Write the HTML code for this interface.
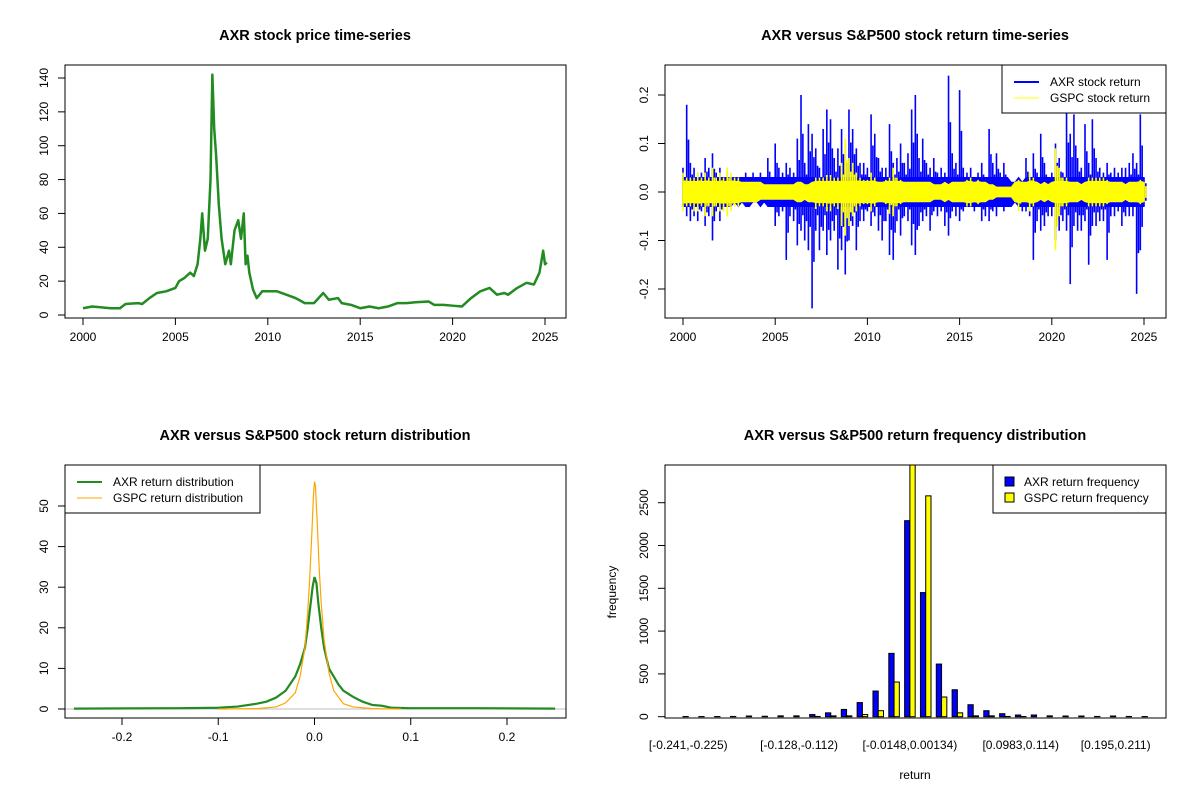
<!DOCTYPE html>
<html><head><meta charset="utf-8"><style>
body{margin:0;background:#fff}
svg text{font-family:"Liberation Sans",Arial,sans-serif;fill:#000}
</style></head><body>
<svg id="s" width="1200" height="800" xmlns="http://www.w3.org/2000/svg">
<defs>
<clipPath id="c1"><rect x="65" y="65" width="501" height="253"/></clipPath>
<clipPath id="c2"><rect x="665" y="65" width="501" height="253"/></clipPath>
<clipPath id="c3"><rect x="65" y="465" width="501" height="253"/></clipPath>
<clipPath id="c4"><rect x="665" y="465" width="501" height="253"/></clipPath>
</defs>
</svg>
<script>
// ---------- data ----------
const priceYears=[2000,2000.5,2001,2001.5,2002,2002.3,2003,2003.2,2003.6,2004,2004.5,2005,2005.2,2005.5,2005.8,2006,2006.2,2006.35,2006.45,2006.6,2006.75,2006.9,2007.0,2007.1,2007.2,2007.35,2007.5,2007.7,2007.9,2008.0,2008.2,2008.4,2008.55,2008.7,2008.8,2008.9,2009.0,2009.2,2009.4,2009.7,2010,2010.5,2011,2011.5,2012,2012.5,2013,2013.3,2013.8,2014,2014.5,2015,2015.5,2016,2016.5,2017,2017.5,2018,2018.7,2019,2019.5,2020,2020.5,2021,2021.5,2022,2022.4,2022.8,2023,2023.5,2024,2024.4,2024.7,2024.9,2025.0,2025.1];
const priceValues=[4,5,4.5,4,4,6.5,7,6.5,10,13,14,16,20,22,25,23,30,45,60,38,45,80,142,110,95,65,45,30,38,30,50,56,45,60,30,35,25,15,10,14,14,14,12,10,7,7,13,9,10,7,6,4,5,4,5,7,7,7.5,8,6,6,5.5,5,10,14,16,12,13,12,16,19,18,25,38,30,31];
const retStart=2000, retStep=0.2;
const axrUp=[0.05,0.18,0.06,0.05,0.04, 0.04,0.07,0.05,0.08,0.04, 0.05,0.03,0.04,0.03,0.03, 0.03,0.03,0.04,0.03,0.04, 0.03,0.04,0.03,0.07,0.03, 0.10,0.05,0.04,0.06,0.05, 0.04,0.11,0.20,0.06,0.14, 0.12,0.09,0.05,0.13,0.17, 0.15,0.07,0.09,0.13,0.10, 0.17,0.13,0.09,0.06,0.06, 0.05,0.16,0.12,0.07,0.05, 0.05,0.14,0.06,0.07,0.10, 0.06,0.08,0.17,0.20,0.07, 0.11,0.06,0.05,0.07,0.04, 0.05,0.04,0.24,0.08,0.06, 0.21,0.05,0.04,0.05,0.03, 0.04,0.06,0.03,0.13,0.06, 0.08,0.04,0.06,0.03,0.02, 0.02,0.03,0.02,0.07,0.03, 0.08,0.04,0.12,0.06,0.03, 0.04,0.10,0.07,0.04,0.17, 0.12,0.16,0.07,0.05,0.14, 0.06,0.15,0.07,0.05,0.04, 0.06,0.04,0.05,0.04,0.05, 0.05,0.06,0.08,0.06,0.16, 0.03];
const axrDown=[-0.03,-0.05,-0.06,-0.05,-0.06, -0.04,-0.07,-0.05,-0.10,-0.04, -0.06,-0.03,-0.03,-0.03,-0.02, -0.03,-0.02,-0.03,-0.03,-0.02, -0.02,-0.03,-0.02,-0.03,-0.03, -0.07,-0.05,-0.04,-0.14,-0.05, -0.06,-0.11,-0.08,-0.10,-0.12, -0.24,-0.08,-0.12,-0.08,-0.13, -0.10,-0.08,-0.16,-0.12,-0.17, -0.10,-0.07,-0.12,-0.06,-0.06, -0.04,-0.07,-0.05,-0.08,-0.10, -0.06,-0.13,-0.14,-0.06,-0.09, -0.05,-0.06,-0.11,-0.13,-0.07, -0.06,-0.05,-0.08,-0.04,-0.05, -0.04,-0.07,-0.09,-0.04,-0.05, -0.06,-0.04,-0.03,-0.03,-0.04, -0.03,-0.06,-0.05,-0.06,-0.04, -0.05,-0.03,-0.04,-0.03,-0.03, -0.02,-0.03,-0.04,-0.04,-0.05, -0.14,-0.06,-0.08,-0.07,-0.05, -0.05,-0.10,-0.08,-0.06,-0.08, -0.19,-0.07,-0.08,-0.08,-0.06, -0.15,-0.07,-0.07,-0.06,-0.06, -0.14,-0.05,-0.05,-0.04,-0.07, -0.05,-0.05,-0.05,-0.21,-0.12, -0.03];
const gspcUp=[0.04,0.03,0.03,0.03,0.04, 0.03,0.04,0.03,0.05,0.03, 0.04,0.03,0.05,0.04,0.03, 0.03,0.02,0.02,0.02,0.02, 0.02,0.02,0.015,0.015,0.015, 0.015,0.015,0.015,0.015,0.015, 0.015,0.02,0.02,0.015,0.015, 0.02,0.03,0.03,0.03,0.035, 0.035,0.03,0.03,0.06,0.11, 0.07,0.06,0.04,0.03,0.025, 0.025,0.04,0.03,0.02,0.02, 0.025,0.03,0.05,0.03,0.025, 0.02,0.02,0.02,0.02,0.02, 0.02,0.02,0.02,0.015,0.015, 0.015,0.02,0.015,0.02,0.02, 0.02,0.02,0.025,0.03,0.02, 0.025,0.02,0.02,0.015,0.015, 0.01,0.01,0.01,0.01,0.01, 0.02,0.025,0.02,0.02,0.04, 0.03,0.02,0.015,0.02,0.015, 0.02,0.09,0.05,0.03,0.03, 0.02,0.02,0.02,0.015,0.02, 0.03,0.03,0.03,0.03,0.03, 0.025,0.02,0.02,0.02,0.02, 0.015,0.02,0.02,0.02,0.025, 0.02];
const gspcDown=[-0.04,-0.03,-0.03,-0.04,-0.04, -0.03,-0.05,-0.03,-0.05,-0.03, -0.04,-0.04,-0.05,-0.04,-0.03, -0.03,-0.02,-0.02,-0.02,-0.02, -0.02,-0.015,-0.015,-0.015,-0.015, -0.015,-0.015,-0.015,-0.015,-0.015, -0.015,-0.02,-0.02,-0.015,-0.02, -0.02,-0.035,-0.03,-0.03,-0.04, -0.04,-0.03,-0.035,-0.07,-0.09, -0.07,-0.05,-0.04,-0.03,-0.025, -0.025,-0.04,-0.03,-0.02,-0.02, -0.025,-0.045,-0.05,-0.03,-0.025, -0.02,-0.02,-0.02,-0.02,-0.02, -0.02,-0.02,-0.02,-0.015,-0.015, -0.015,-0.02,-0.015,-0.02,-0.02, -0.02,-0.02,-0.03,-0.03,-0.02, -0.025,-0.02,-0.02,-0.015,-0.015, -0.01,-0.01,-0.01,-0.01,-0.01, -0.02,-0.04,-0.02,-0.02,-0.04, -0.03,-0.02,-0.015,-0.02,-0.015, -0.02,-0.12,-0.05,-0.03,-0.03, -0.02,-0.02,-0.02,-0.015,-0.02, -0.03,-0.03,-0.03,-0.03,-0.03, -0.025,-0.02,-0.02,-0.02,-0.02, -0.015,-0.02,-0.02,-0.02,-0.025, -0.02];
const axrDensX=[-0.25,-0.14,-0.1,-0.08,-0.06,-0.05,-0.04,-0.03,-0.02,-0.015,-0.01,-0.007,-0.004,-0.002,0,0.002,0.004,0.007,0.01,0.015,0.02,0.025,0.03,0.04,0.05,0.06,0.07,0.08,0.1,0.15,0.17,0.25];
const axrDensY=[0.1,0.2,0.3,0.6,1.3,1.8,2.8,4.5,8,11,15,20,26,30,32.5,31,26,20,15,10,8,6,4.5,3,1.8,1,0.8,0.3,0.2,0.2,0.2,0.1];
const gspcDensX=[-0.1,-0.06,-0.04,-0.03,-0.02,-0.015,-0.01,-0.007,-0.005,-0.003,-0.001,0,0.001,0.003,0.005,0.007,0.01,0.015,0.02,0.03,0.04,0.06,0.09];
const gspcDensY=[0,0.1,0.5,1.5,4,8,15,24,32,42,53,56,55,45,34,26,17,9,4.5,1.3,0.5,0.1,0];
const axrFreq=[2,2,2,3,8,5,10,10,25,45,85,165,300,740,2290,1450,615,315,140,70,35,20,20,10,8,8,3,8,3,2];
const gspcFreq=[0,0,0,0,0,0,0,0,3,10,10,25,70,405,3300,2580,230,45,10,10,3,2,0,0,0,0,0,0,0,0];
const binLabels=["[-0.241,-0.225)","[-0.128,-0.112)","[-0.0148,0.00134)","[0.0983,0.114)","[0.195,0.211)"];
const binLabelIdx=[0,7,14,21,27];
const yearTicks=[2000,2005,2010,2015,2020,2025];
const priceTicks=[0,20,40,60,80,100,120,140];
const retTicks=[-0.2,-0.1,0.0,0.1,0.2];
const densXTicks=[-0.2,-0.1,0.0,0.1,0.2];
const densYTicks=[0,10,20,30,40,50];
const freqTicks=[0,500,1000,1500,2000,2500];

// ---------- helpers ----------
const S=document.getElementById('s');const NS='http://www.w3.org/2000/svg';
function mk(tag,attrs,parent){const e=document.createElementNS(NS,tag);for(const k in attrs)e.setAttribute(k,attrs[k]);(parent||S).appendChild(e);return e;}
function txt(x,y,s,opts,parent){const e=mk('text',Object.assign({x:x,y:y,'text-anchor':'middle','font-size':12},opts||{}),parent);e.textContent=s;return e;}
function box(x,y,w,h,name){const r=mk('rect',{x:x,y:y,width:w,height:h,fill:'none',stroke:'#000','stroke-width':1});}
function xTick(x,y0,label){mk('line',{x1:x,y1:y0,x2:x,y2:y0+7,stroke:'#000'});txt(x,y0+23,label);}
function yTick(x0,y,label){mk('line',{x1:x0,y1:y,x2:x0-7,y2:y,stroke:'#000'});txt(x0-17,y,label,{transform:`rotate(-90 ${x0-17} ${y})`});}
function fmt1(v){return v.toFixed(1);}

// ---------- panel 1: price ----------
const px1=y=>83+(y-2000)*(545-83)/25, py1=v=>315-v*(315-78)/140;
txt(315,40,'AXR stock price time-series',{'font-weight':'bold','font-size':14.5});
let g=mk('g',{'clip-path':'url(#c1)'});
mk('polyline',{points:priceYears.map((y,i)=>px1(y)+','+py1(priceValues[i])).join(' '),fill:'none',stroke:'#228b22','stroke-width':2.5,'stroke-linejoin':'round'},g);
box(65,65,501,253,'price-plot-frame');
yearTicks.forEach(t=>xTick(px1(t),318,String(t)));
mk('line',{x1:83,y1:318,x2:545,y2:318,stroke:'#000'});
priceTicks.forEach(t=>yTick(65,py1(t),String(t)));

// ---------- panel 2: returns ----------
const px2=y=>683+(y-2000)*(1144-683)/25, py2=v=>192-v*(192-95)/0.2;
txt(915,40,'AXR versus S&P500 stock return time-series',{'font-weight':'bold','font-size':14.5});
function spikes(up,dn,color,core,name){
 const gg=mk('g',{'clip-path':'url(#c2)'});
 let top=[],bot=[];
 up.forEach((u,i)=>{const t=retStart+i*retStep;top.push(px2(t)+','+py2(Math.min(u,core)));bot.unshift(px2(t)+','+py2(Math.max(dn[i],-core)));});
 mk('polygon',{points:top.concat(bot).join(' '),fill:color,stroke:color,'stroke-width':1},gg);
 let d='';
 up.forEach((u,i)=>{const t=retStart+i*retStep;const x=px2(t);const x2=px2(t+retStep/2);
   d+=`M${x},${py2(dn[i])}V${py2(u)}M${x2},${py2(dn[i]*0.6)}V${py2(u*0.6)}`;});
 mk('path',{d:d,stroke:color,'stroke-width':1.6,fill:'none'},gg);
}
spikes(axrUp,axrDown,'#0000ff',0.03,'axr-return-series');
spikes(gspcUp,gspcDown,'#ffff00',0.022,'gspc-return-series');
box(665,65,501,253,'return-plot-frame');
yearTicks.forEach(t=>xTick(px2(t),318,String(t)));
mk('line',{x1:683,y1:318,x2:1144,y2:318,stroke:'#000'});
retTicks.forEach(t=>yTick(665,py2(t),fmt1(t)));
let lg=mk('g',{});
mk('rect',{x:1002,y:65,width:164,height:48,fill:'#fff',stroke:'#000'},lg);
mk('line',{x1:1014,y1:82,x2:1039,y2:82,stroke:'#0000ff','stroke-width':2},lg);
mk('line',{x1:1014,y1:98,x2:1039,y2:98,stroke:'#ffff00','stroke-width':1},lg);
txt(1050,86,'AXR stock return',{'text-anchor':'start'},lg);
txt(1050,102,'GSPC stock return',{'text-anchor':'start'},lg);

// ---------- panel 3: density ----------
const px3=x=>314.5+x*962.5, py3=v=>709-v*(709-506)/50;
txt(315,440,'AXR versus S&P500 stock return distribution',{'font-weight':'bold','font-size':14.5});
g=mk('g',{'clip-path':'url(#c3)'});
mk('line',{x1:65,y1:py3(0),x2:566,y2:py3(0),stroke:'#bebebe'},g);
let d1=mk('polyline',{points:axrDensX.map((x,i)=>px3(x)+','+py3(axrDensY[i])).join(' '),fill:'none',stroke:'#228b22','stroke-width':2.2},g);

let d2=mk('polyline',{points:gspcDensX.map((x,i)=>px3(x)+','+py3(gspcDensY[i])).join(' '),fill:'none',stroke:'#ffa500','stroke-width':1.2},g);

box(65,465,501,253,'density-plot-frame');
densXTicks.forEach(t=>xTick(px3(t),718,fmt1(t)));
mk('line',{x1:px3(-0.2),y1:718,x2:px3(0.2),y2:718,stroke:'#000'});
densYTicks.forEach(t=>yTick(65,py3(t),String(t)));
lg=mk('g',{});
mk('rect',{x:65,y:465,width:195,height:48,fill:'#fff',stroke:'#000'},lg);
mk('line',{x1:77,y1:482,x2:102,y2:482,stroke:'#228b22','stroke-width':2},lg);
mk('line',{x1:77,y1:498,x2:102,y2:498,stroke:'#ffa500','stroke-width':1},lg);
txt(113,486,'AXR return distribution',{'text-anchor':'start'},lg);
txt(113,502,'GSPC return distribution',{'text-anchor':'start'},lg);

// ---------- panel 4: histogram ----------
const binW=15.83, barW=binW/3, bx=i=>683+barW/2+i*binW, py4=v=>716.7-v*(716.7-502.7)/2500;
txt(915,440,'AXR versus S&P500 return frequency distribution',{'font-weight':'bold','font-size':14.5});
g=mk('g',{'clip-path':'url(#c4)'});
axrFreq.forEach((v,i)=>{const x=bx(i)-barW/2;const r=mk('rect',{x:x,y:py4(v),width:barW,height:py4(0)-py4(v),fill:'#0000ff',stroke:'#000','stroke-width':1},g);
 });
gspcFreq.forEach((v,i)=>{const x=bx(i)+barW/2;const r=mk('rect',{x:x,y:py4(v),width:barW,height:py4(0)-py4(v),fill:'#ffff00',stroke:'#000','stroke-width':1},g);
 });
box(665,465,501,253,'histogram-plot-frame');
binLabelIdx.forEach((b,k)=>txt(bx(b)+barW/2,749,binLabels[k]));
freqTicks.forEach(t=>yTick(665,py4(t),String(t)));
mk('line',{x1:665,y1:py4(0),x2:665,y2:py4(2500),stroke:'#000'});
txt(915,779,'return');
txt(616,592,'frequency',{transform:'rotate(-90 616 592)'});
lg=mk('g',{});
mk('rect',{x:993,y:465,width:173,height:48,fill:'#fff',stroke:'#000'},lg);
mk('rect',{x:1005,y:477,width:9,height:9,fill:'#0000ff',stroke:'#000'},lg);
mk('rect',{x:1005,y:493,width:9,height:9,fill:'#ffff00',stroke:'#000'},lg);
txt(1024,486,'AXR return frequency',{'text-anchor':'start'},lg);
txt(1024,502,'GSPC return frequency',{'text-anchor':'start'},lg);
</script>
</body></html>
